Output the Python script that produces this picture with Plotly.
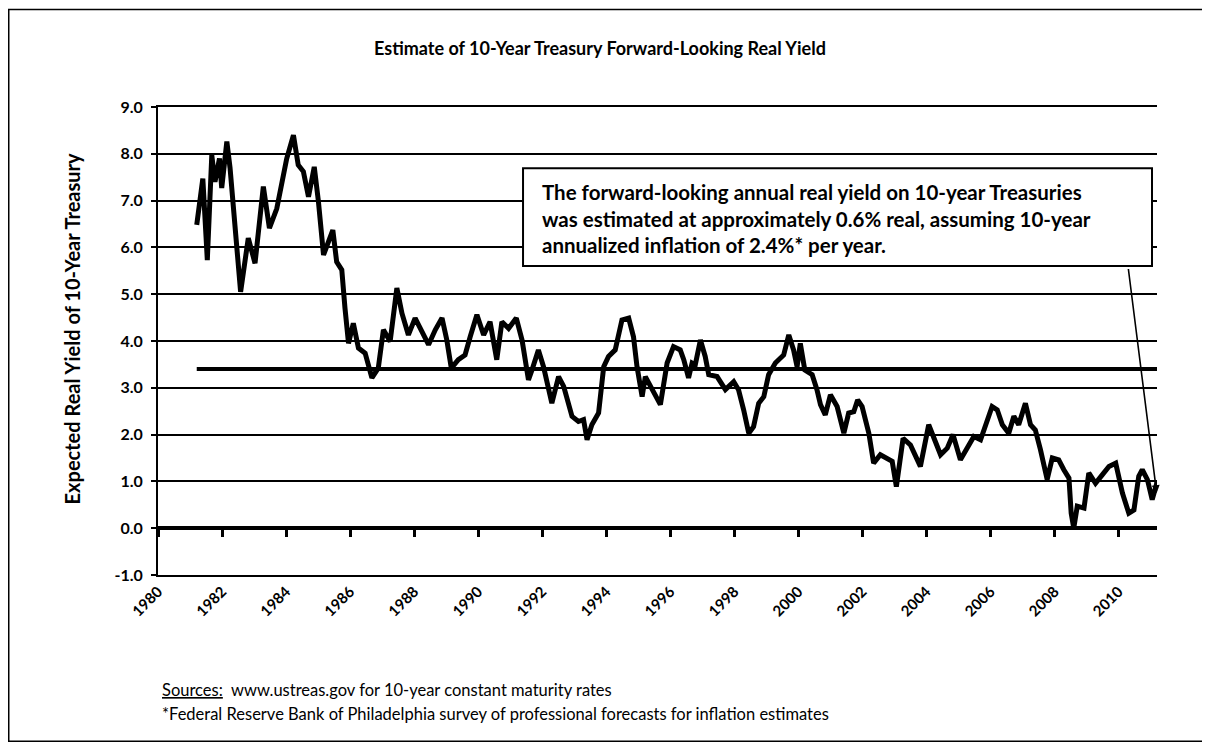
import plotly.graph_objects as go

# ---- data ----
years = [1981.21, 1981.40, 1981.54, 1981.68, 1981.78, 1981.92, 1981.99, 1982.15, 1982.25, 1982.40,
         1982.58, 1982.82, 1983.03, 1983.29, 1983.48, 1983.71, 1983.92, 1984.02, 1984.23, 1984.38,
         1984.54, 1984.70, 1984.88, 1985.01, 1985.17, 1985.46, 1985.58, 1985.74, 1985.84, 1985.95,
         1986.10, 1986.26, 1986.47, 1986.68, 1986.88, 1987.04, 1987.25, 1987.46, 1987.62, 1987.82,
         1988.03, 1988.24, 1988.45, 1988.66, 1988.87, 1989.02, 1989.16, 1989.38, 1989.59, 1989.75,
         1989.96, 1990.17, 1990.37, 1990.58, 1990.74, 1990.95, 1991.19, 1991.37, 1991.57, 1991.68,
         1991.88, 1992.04, 1992.30, 1992.51, 1992.67, 1992.93, 1993.13, 1993.29, 1993.40, 1993.55,
         1993.76, 1993.92, 1994.07, 1994.28, 1994.49, 1994.70, 1994.85, 1994.96, 1995.12, 1995.22,
         1995.43, 1995.69, 1995.90, 1996.10, 1996.31, 1996.42, 1996.57, 1996.68, 1996.78, 1996.94,
         1997.09, 1997.20, 1997.46, 1997.72, 1997.98, 1998.13, 1998.29, 1998.45, 1998.60, 1998.76,
         1998.92, 1999.07, 1999.28, 1999.54, 1999.70, 1999.85, 1999.96, 2000.06, 2000.20, 2000.43,
         2000.58, 2000.69, 2000.84, 2001.00, 2001.21, 2001.42, 2001.57, 2001.73, 2001.85, 2001.99,
         2002.20, 2002.35, 2002.56, 2002.77, 2002.93, 2003.06, 2003.27, 2003.50, 2003.81, 2004.07,
         2004.23, 2004.44, 2004.65, 2004.83, 2005.06, 2005.27, 2005.48, 2005.69, 2005.84, 2006.05,
         2006.21, 2006.37, 2006.57, 2006.73, 2006.88, 2007.09, 2007.25, 2007.40, 2007.56, 2007.77,
         2007.93, 2008.13, 2008.29, 2008.45, 2008.52, 2008.60, 2008.71, 2008.92, 2009.07, 2009.28,
         2009.49, 2009.70, 2009.91, 2010.12, 2010.32, 2010.48, 2010.63, 2010.74, 2010.90, 2011.05,
         2011.21]
real_yield = [6.48, 7.47, 5.73, 7.97, 7.40, 7.90, 7.27, 8.26, 7.70, 6.55,
              5.05, 6.20, 5.66, 7.30, 6.41, 6.83, 7.51, 7.90, 8.40, 7.76,
              7.62, 7.08, 7.72, 6.98, 5.84, 6.37, 5.69, 5.52, 4.70, 3.95,
              4.38, 3.85, 3.74, 3.21, 3.42, 4.24, 3.99, 5.13, 4.59, 4.13,
              4.49, 4.20, 3.92, 4.24, 4.49, 4.02, 3.42, 3.60, 3.70, 4.09,
              4.56, 4.13, 4.41, 3.60, 4.41, 4.27, 4.49, 4.02, 3.17, 3.38,
              3.81, 3.45, 2.67, 3.24, 3.03, 2.39, 2.28, 2.32, 1.89, 2.21,
              2.46, 3.45, 3.67, 3.81, 4.45, 4.49, 4.09, 3.45, 2.81, 3.24,
              2.96, 2.64, 3.53, 3.88, 3.81, 3.60, 3.21, 3.53, 3.49, 4.02,
              3.67, 3.28, 3.24, 2.96, 3.13, 2.96, 2.53, 2.03, 2.17, 2.67,
              2.81, 3.28, 3.53, 3.70, 4.13, 3.81, 3.45, 3.95, 3.38, 3.28,
              2.96, 2.64, 2.42, 2.85, 2.60, 2.03, 2.46, 2.49, 2.74, 2.60,
              2.03, 1.39, 1.57, 1.50, 1.43, 0.89, 1.92, 1.78, 1.32, 2.21,
              1.92, 1.57, 1.71, 2.00, 1.46, 1.71, 1.96, 1.89, 2.21, 2.60,
              2.53, 2.21, 2.03, 2.39, 2.21, 2.67, 2.21, 2.10, 1.68, 1.04,
              1.50, 1.46, 1.25, 1.07, 0.32, 0.00, 0.47, 0.43, 1.18, 0.96,
              1.14, 1.32, 1.39, 0.75, 0.32, 0.39, 1.11, 1.25, 1.04, 0.61,
              1.00]
average_yield = 3.4
tick_years = list(range(1980, 2011, 2))
tick_labels = [str(y) for y in tick_years]
y_ticks = list(range(-1, 10))
y_tick_labels = [f"{v:.1f}" for v in y_ticks]
x_range = [1980, 2011.2]
y_range = [-1, 9]

title_text = "Estimate of 10-Year Treasury Forward-Looking Real Yield"
ytitle_text = "Expected Real Yield of 10-Year Treasury"
note_text = ("The forward-looking annual real yield on 10-year Treasuries<br>"
             "was estimated at approximately 0.6% real, assuming 10-year<br>"
             "annualized inflation of 2.4%* per year.")
source1 = "<u>Sources:</u>  www.ustreas.gov for 10-year constant maturity rates"
source2 = "*Federal Reserve Bank of Philadelphia survey of professional forecasts for inflation estimates"

FONT = "Lato"

fig = go.Figure()

# average line
fig.add_trace(go.Scatter(
    x=[years[0], years[-1]], y=[average_yield, average_yield],
    mode="lines", line=dict(color="black", width=4), xaxis="x2", yaxis="y",
    showlegend=False, hoverinfo="skip"))

# real yield series
fig.add_trace(go.Scatter(
    x=years, y=real_yield, mode="lines",
    line=dict(color="black", width=5),
    showlegend=False))

zero_pos = (0 - y_range[0]) / (y_range[1] - y_range[0])

fig.update_layout(
    width=1202, height=738, autosize=False,
    margin=dict(l=150, r=53, t=98.5, b=170.5),
    paper_bgcolor="white", plot_bgcolor="white",
    font=dict(family=FONT, color="black"),
    xaxis=dict(
        range=x_range, tickmode="array", tickvals=tick_years, ticktext=tick_labels,
        tickangle=-45, showgrid=False, zeroline=False,
        showline=True, mirror=True, linecolor="black", linewidth=2, ticks="",
        tickfont=dict(family=FONT, size=15, color="black", weight="bold"),
    ),
    xaxis2=dict(
        range=x_range, overlaying="x", anchor="free", position=zero_pos,
        tickmode="array", tickvals=tick_years, showticklabels=False,
        ticks="outside", ticklen=7, tickwidth=3, tickcolor="black",
        showgrid=False, zeroline=False, showline=True, linecolor="black", linewidth=4,
    ),
    yaxis=dict(
        range=y_range, tickmode="array", tickvals=y_ticks, ticktext=y_tick_labels,
        showgrid=True, gridcolor="black", gridwidth=2,
        zeroline=False,
        showline=True, linecolor="black", linewidth=2,
        ticks="outside", ticklen=5, tickwidth=2, tickcolor="black",
        ticklabelstandoff=5,
        tickfont=dict(family=FONT, size=16, color="black", weight="bold"),
    ),
)

annotations = [
    dict(text=title_text, xref="paper", yref="paper", x=0.4424, y=1.127,
         xanchor="center", yanchor="middle", showarrow=False,
         font=dict(family=FONT, size=18, color="black", weight="bold")),
    dict(text=ytitle_text, xref="paper", yref="paper", x=-0.086, y=0.525,
         xanchor="center", yanchor="middle", showarrow=False, textangle=-90,
         font=dict(family=FONT, size=20, color="black", weight="bold")),
    dict(text=note_text, xref="paper", yref="paper", x=0.3824, y=0.762,
         xanchor="left", yanchor="middle", align="left", showarrow=False,
         font=dict(family=FONT, size=20.5, color="black", weight="bold")),
    dict(text="", x=years[-1] - 0.02, y=0.75, xref="x", yref="y",
         ax=2010.3, ay=5.57, axref="x", ayref="y", showarrow=True,
         arrowhead=2, arrowsize=1, arrowwidth=1.6, arrowcolor="black"),
    dict(text=source1, xref="paper", yref="paper", x=0.002, y=-0.246,
         xanchor="left", yanchor="middle", showarrow=False,
         font=dict(family=FONT, size=16.5, color="black")),
    dict(text=source2, xref="paper", yref="paper", x=0.002, y=-0.297,
         xanchor="left", yanchor="middle", showarrow=False,
         font=dict(family=FONT, size=16.5, color="black")),
]
fig.update_layout(annotations=annotations)

fig.update_layout(shapes=[
    dict(type="rect", xref="paper", yref="paper", x0=0.3654, x1=0.995, y0=0.660, y1=0.869,
         line=dict(color="black", width=2), fillcolor="white", layer="above"),
    dict(type="rect", xref="paper", yref="paper", x0=-0.1494, x1=1.050, y0=-0.355, y1=1.2084,
         line=dict(color="black", width=1.5), fillcolor="rgba(0,0,0,0)", layer="above"),
])

fig.write_html("out.html")
